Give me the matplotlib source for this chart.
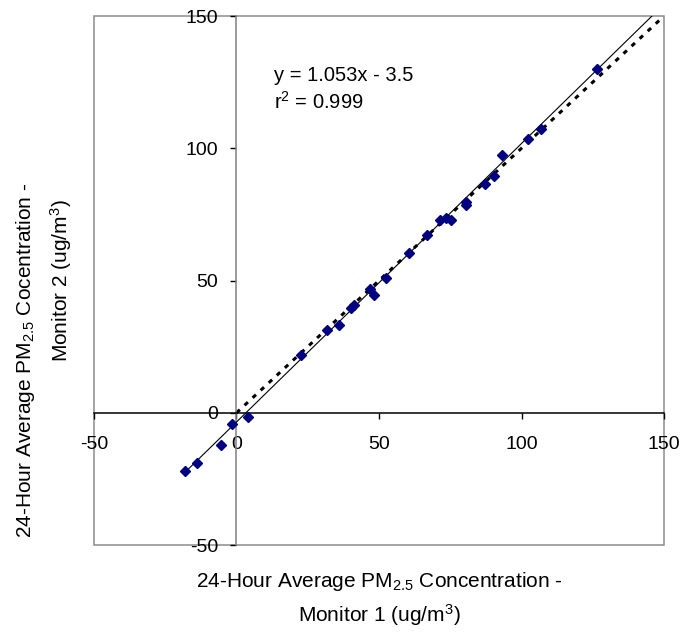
import matplotlib
matplotlib.use('Agg')
from matplotlib import pyplot as plt
from matplotlib.patches import Rectangle

plt.rcParams['font.family'] = ['Liberation Sans', 'DejaVu Sans']
plt.rcParams['mathtext.fontset'] = 'custom'
plt.rcParams['mathtext.rm'] = 'Liberation Sans'
plt.rcParams['mathtext.default'] = 'regular'
plt.rcParams['axes.unicode_minus'] = False

# monitor 1 vs monitor 2 (ug/m3)
monitor1 = [-17.9, -13.9, -5.6, -1.5, 4.0, 22.8, 31.7, 35.8, 40.2, 41.2,
            46.7, 48.3, 52.4, 60.5, 66.8, 71.5, 73.6, 75.1, 80.4, 80.6,
            87.3, 90.2, 93.0, 102.2, 106.7, 126.6]
monitor2 = [-21.9, -19.1, -12.0, -4.3, -1.5, 21.8, 31.3, 33.2, 39.7, 40.6,
            46.7, 44.6, 51.1, 60.4, 67.1, 72.9, 73.5, 72.7, 78.5, 79.7,
            86.5, 89.4, 97.5, 103.5, 107.3, 129.9]

slope = 1.053
intercept = -3.5
ticks = [-50, 0, 50, 100, 150]


def build_graph():
    '''
    Draw the monitor comparison scatter with fit and 1:1 line
    '''
    fig = plt.figure(figsize=(6.83, 6.33), dpi=100)
    ax = fig.add_axes([0.1376, 0.139, 0.8346, 0.8357])
    ax.set_xlim(-50, 150)
    ax.set_ylim(-50, 150)

    # 1:1 reference line
    ax.plot([0, 150], [0, 150], color='black', lw=2.2,
            linestyle=(0, (1.5, 2.1)), zorder=2)
    # regression line
    x_fit = [min(monitor1), 150]
    y_fit = [slope * x + intercept for x in x_fit]
    ax.plot(x_fit, y_fit, color='black', lw=0.8, zorder=3)
    ax.plot(monitor1, monitor2, linestyle='none', marker='D', ms=5,
            color='#000080', zorder=4)

    for side in ['top', 'right']:
        ax.spines[side].set_visible(False)
    ax.spines['left'].set_position(('data', 0))
    ax.spines['bottom'].set_position(('data', 0))
    ax.spines['left'].set_color('#808080')
    ax.spines['left'].set_linewidth(1.1)
    ax.spines['bottom'].set_color('black')
    ax.spines['bottom'].set_linewidth(1.1)
    ax.add_patch(Rectangle((0, 0), 1, 1, transform=ax.transAxes, fill=False,
                           edgecolor='#8c8c8c', lw=1.1, clip_on=False))

    ax.set_xticks(ticks)
    ax.set_yticks(ticks)
    ax.tick_params(axis='both', direction='out', length=4, width=1,
                   labelsize=14)
    ax.tick_params(axis='x', pad=13)
    ax.tick_params(axis='y', pad=9)

    ax.text(13.3, 125.3, 'y = 1.053x - 3.5', fontsize=14.5, va='baseline')
    ax.text(13.3, 115.0, 'r$^2$ = 0.999', fontsize=14.5, va='baseline')

    fig.text(0.556, 0.054,
             '24-Hour Average PM$_{2.5}$ Concentration -\nMonitor 1 (ug/m$^3$)',
             ha='center', va='center', fontsize=15, linespacing=1.45)
    # the two y label lines are not centred on each other in the original
    fig.text(0.038, 0.43, '24-Hour Average PM$_{2.5}$ Cocentration -',
             ha='center', va='center', rotation=90, fontsize=15)
    fig.text(0.089, 0.557, 'Monitor 2 (ug/m$^3$)',
             ha='center', va='center', rotation=90, fontsize=15)

    fig.savefig('out.png', dpi=100)


if __name__ == '__main__':
    build_graph()
